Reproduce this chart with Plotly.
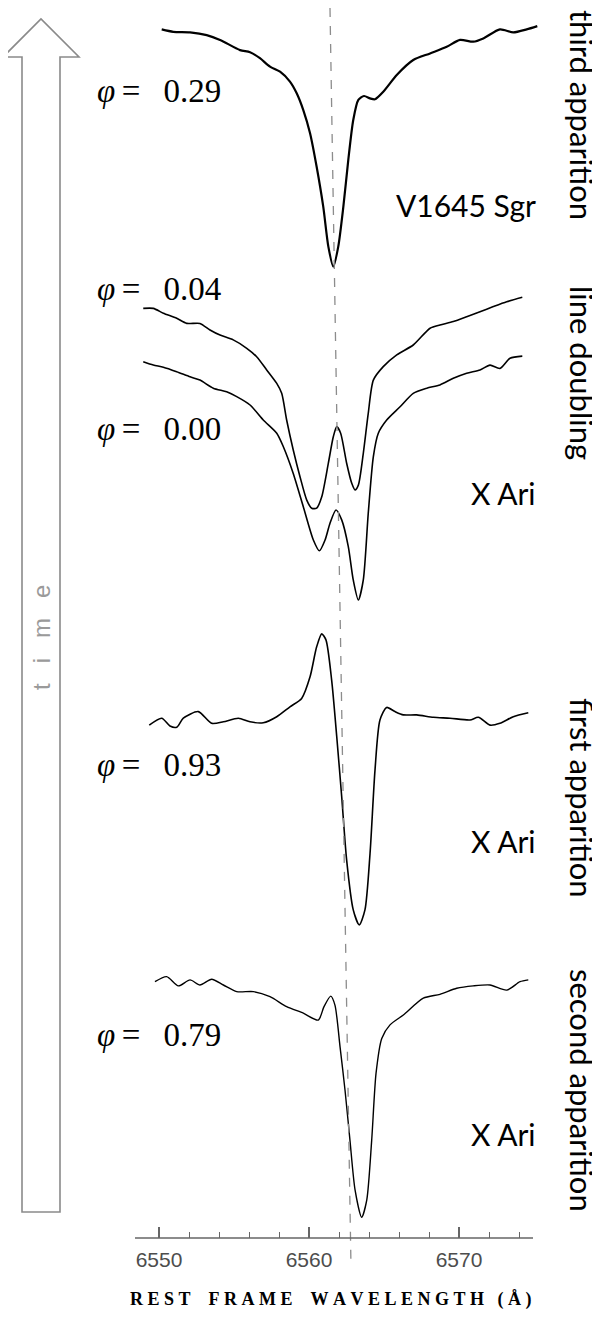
import plotly.graph_objects as go

# ---------------- data (wavelength in Angstrom, normalised flux) ----------------
phase_labels = ["0.29", "0.04", "0.00", "0.93", "0.79"]
star_labels = ["V1645 Sgr", "X Ari", "X Ari", "X Ari"]
epoch_labels = ["third apparition", "line doubling", "first apparition", "second apparition"]

s1_wl = [6550.18, 6550.95, 6552.07, 6553.18, 6554.07, 6555.40, 6556.07, 6556.73, 6557.40, 6558.07,
         6558.73, 6559.18, 6559.62, 6560.07, 6560.51, 6560.95, 6561.29, 6561.62, 6561.95, 6562.29,
         6562.62, 6562.95, 6563.29, 6563.67, 6564.07, 6564.40, 6564.95, 6565.85, 6566.95, 6568.07,
         6569.18, 6570.07, 6570.95, 6571.62, 6572.73, 6573.62, 6574.51, 6575.22]
s1_flux = [1.002, 0.994, 0.992, 0.983, 0.967, 0.933, 0.926, 0.906, 0.878, 0.861,
           0.828, 0.789, 0.733, 0.656, 0.544, 0.411, 0.278, 0.211, 0.278, 0.411,
           0.567, 0.700, 0.767, 0.780, 0.772, 0.769, 0.794, 0.850, 0.900, 0.922,
           0.944, 0.967, 0.961, 0.972, 1.002, 0.992, 1.002, 1.013]

s2_wl = [6548.95, 6549.62, 6550.29, 6551.18, 6551.85, 6552.73, 6553.40, 6554.07, 6554.95, 6555.85,
         6556.51, 6557.18, 6557.85, 6558.18, 6558.51, 6558.95, 6559.40, 6559.85, 6560.18, 6560.51,
         6560.85, 6561.29, 6561.62, 6561.85, 6562.11, 6562.51, 6562.85, 6563.07, 6563.29, 6563.62,
         6563.95, 6564.29, 6564.95, 6565.85, 6566.95, 6568.07, 6568.73, 6569.62, 6570.51, 6571.40,
         6572.29, 6573.18, 6574.22]
s2_flux = [0.972, 0.972, 0.956, 0.939, 0.922, 0.922, 0.900, 0.883, 0.867, 0.839,
           0.811, 0.767, 0.722, 0.689, 0.600, 0.500, 0.411, 0.333, 0.306, 0.306,
           0.344, 0.456, 0.544, 0.578, 0.556, 0.456, 0.389, 0.367, 0.383, 0.489,
           0.622, 0.733, 0.778, 0.817, 0.850, 0.906, 0.917, 0.928, 0.944, 0.961,
           0.978, 0.994, 1.009]

s3_wl = [6548.95, 6549.62, 6550.29, 6551.18, 6552.07, 6552.73, 6553.62, 6554.51, 6555.18, 6556.07,
         6556.95, 6557.85, 6558.29, 6558.95, 6559.62, 6560.29, 6560.69, 6561.07, 6561.40, 6561.80,
         6562.18, 6562.62, 6562.95, 6563.29, 6563.62, 6563.95, 6564.29, 6564.62, 6565.18, 6566.07,
         6566.95, 6567.85, 6568.73, 6569.62, 6570.51, 6571.40, 6572.07, 6572.73, 6573.40, 6574.22]
s3_flux = [0.994, 0.983, 0.976, 0.961, 0.944, 0.933, 0.906, 0.894, 0.878, 0.850,
           0.800, 0.756, 0.711, 0.622, 0.511, 0.400, 0.364, 0.400, 0.456, 0.500,
           0.467, 0.378, 0.267, 0.200, 0.267, 0.489, 0.678, 0.756, 0.800, 0.844,
           0.889, 0.906, 0.917, 0.939, 0.956, 0.967, 0.983, 0.972, 1.006, 1.013]

s4_wl = [6549.35, 6550.18, 6550.73, 6551.18, 6551.62, 6552.62, 6553.51, 6554.29, 6555.29, 6556.07,
         6556.95, 6557.85, 6558.73, 6559.51, 6560.07, 6560.51, 6560.85, 6561.13, 6561.51, 6561.85,
         6562.18, 6562.51, 6562.95, 6563.35, 6563.73, 6564.07, 6564.40, 6564.73, 6565.18, 6565.73,
         6566.29, 6567.18, 6568.29, 6569.40, 6570.73, 6571.29, 6572.07, 6572.73, 6573.62, 6574.62]
s4_flux = [0.983, 1.006, 0.980, 0.976, 1.006, 1.028, 0.989, 0.994, 1.006, 0.994,
           0.991, 1.011, 1.044, 1.072, 1.144, 1.244, 1.287, 1.267, 1.133, 0.944,
           0.744, 0.533, 0.367, 0.317, 0.367, 0.556, 0.833, 1.000, 1.042, 1.028,
           1.017, 1.017, 1.009, 1.006, 1.000, 1.009, 0.983, 0.989, 1.011, 1.024]

s5_wl = [6549.73, 6550.51, 6551.29, 6552.07, 6552.73, 6553.51, 6554.29, 6555.18, 6556.29, 6557.40,
         6558.51, 6559.62, 6560.62, 6561.00, 6561.45, 6561.73, 6562.07, 6562.40, 6562.73, 6563.07,
         6563.51, 6563.85, 6564.18, 6564.47, 6564.85, 6565.40, 6566.29, 6567.62, 6568.73, 6569.85,
         6570.95, 6572.07, 6573.18, 6574.07, 6574.62]
s5_flux = [1.011, 1.028, 0.997, 1.017, 1.000, 1.019, 1.000, 0.978, 0.978, 0.961,
           0.928, 0.906, 0.883, 0.928, 0.963, 0.933, 0.794, 0.650, 0.483, 0.317,
           0.226, 0.283, 0.483, 0.706, 0.822, 0.867, 0.900, 0.956, 0.969, 0.989,
           0.997, 1.000, 0.983, 1.011, 1.017]

halpha_top_wl = 6561.4      # dashed reference line (drawn slightly slanted in the original)
halpha_bottom_wl = 6562.8

# ---------------- layout geometry ----------------
# page has an 8px body margin; reference pixel coords are converted to figure coords
PAGE_OFF = 8
W, H = 600 - PAGE_OFF, 1317 - PAGE_OFF
AXIS_PY = 1238            # reference pixel row of the x axis
PLOT_LEFT, PLOT_RIGHT = 135, 540
ML = PLOT_LEFT - PAGE_OFF
MR = 600 - PLOT_RIGHT
MT = 0
MB = 1317 - AXIS_PY
PW = PLOT_RIGHT - PLOT_LEFT
PH = AXIS_PY - PAGE_OFF
PX_PER_A = 15.0
X0 = 6550 + (PLOT_LEFT - 159) / PX_PER_A
X1 = X0 + PW / PX_PER_A
PX_PER_UNIT = 300.0
YMAX = PH / PX_PER_UNIT

def xp(px):
    return (px - PLOT_LEFT) / PW

def yp(py):
    return (AXIS_PY - py) / PH

# vertical offsets of each spectrum (plot units), from the continuum rows
cont_rows = [30, 300, 360, 720, 985]
offsets = [(AXIS_PY - r) / PX_PER_UNIT - 1 for r in cont_rows]

spectra = [(s1_wl, s1_flux, 2.2), (s2_wl, s2_flux, 1.6), (s3_wl, s3_flux, 1.6),
           (s4_wl, s4_flux, 1.6), (s5_wl, s5_flux, 1.4)]

fig = go.Figure()
for (wl, fl, lw), off in zip(spectra, offsets):
    fig.add_trace(go.Scatter(x=wl, y=[off + f for f in fl], mode="lines",
                             line=dict(color="black", width=lw, shape="spline", smoothing=0.7),
                             hoverinfo="skip", showlegend=False))

shapes = []
shapes.append(dict(type="line", xref="x", yref="paper",
                   x0=halpha_top_wl, y0=yp(8), x1=halpha_bottom_wl, y1=yp(1267),
                   line=dict(color="#8c8c8c", width=1.3, dash="dash")))
shapes.append(dict(type="line", xref="paper", yref="paper", x0=xp(135), x1=xp(533), y0=0, y1=0,
                   line=dict(color="#666666", width=1.5)))
pts = [(22, 1212), (22, 57), (3, 57), (41, 19), (79, 57), (60, 57), (60, 1212)]
path = "M " + " L ".join(f"{xp(a):.5f},{yp(b):.5f}" for a, b in pts) + " Z"
shapes.append(dict(type="path", xref="paper", yref="paper", path=path,
                   line=dict(color="#8a8a8a", width=1.6), fillcolor="rgba(0,0,0,0)"))

ann = []
phase_y = [91, 289, 429, 765, 1035]
for lab, py in zip(phase_labels, phase_y):
    ann.append(dict(xref="paper", yref="paper", x=xp(95), y=yp(py), xanchor="left", yanchor="middle",
                    text="<i>φ</i>\u2009=\u00a0\u00a0\u2009" + lab, showarrow=False,
                    font=dict(family="Liberation Serif", size=33, color="black")))
star_y = [205, 493, 841, 1134]
for lab, py in zip(star_labels, star_y):
    ann.append(dict(xref="paper", yref="paper", x=xp(538), y=yp(py), xanchor="right", yanchor="middle",
                    text=lab, showarrow=False, font=dict(family="Lato", size=30, color="black")))
epoch_y = [115, 373, 798, 1090]
for lab, py in zip(epoch_labels, epoch_y):
    ann.append(dict(xref="paper", yref="paper", x=xp(582), y=yp(py), xanchor="center", yanchor="middle",
                    text=lab, textangle=90, showarrow=False,
                    font=dict(family="Lato", size=31, color="black")))
ann.append(dict(xref="paper", yref="paper", x=xp(41), y=yp(638), xanchor="center", yanchor="middle",
                text="t\u00a0\u00a0\u00a0i\u00a0\u00a0\u00a0m\u00a0\u00a0\u00a0e", textangle=-90, showarrow=False,
                font=dict(family="Liberation Sans", size=24, color="#9a9a9a")))
title_txt = "\u00a0".join("REST") + "\u00a0\u00a0\u00a0\u00a0" + "\u00a0".join("FRAME") + \
            "\u00a0\u00a0\u00a0\u00a0" + "\u00a0".join("WAVELENGTH") + "\u00a0\u00a0\u00a0" + "(\u00a0Å\u00a0)"
ann.append(dict(xref="paper", yref="paper", x=xp(331), y=yp(1299), xanchor="center", yanchor="middle",
                text="<b>" + title_txt + "</b>", showarrow=False,
                font=dict(family="Liberation Serif", size=18, color="black")))

fig.update_layout(
    width=W, height=H, margin=dict(l=ML, r=MR, t=MT, b=MB, pad=0),
    paper_bgcolor="white", plot_bgcolor="white",
    shapes=shapes, annotations=ann, showlegend=False,
    xaxis=dict(range=[X0, X1], showgrid=False, zeroline=False, showline=False,
               tickmode="linear", tick0=6550, dtick=10, ticks="inside", ticklen=11, tickwidth=1.5,
               tickcolor="#666666", tickfont=dict(family="Liberation Sans", size=21, color="#4d4d4d"),
               ticklabelstandoff=7,
               minor=dict(tick0=6550, dtick=2, ticks="inside", ticklen=6, tickwidth=1.2, tickcolor="#666666",
                          showgrid=False)),
    yaxis=dict(range=[0, YMAX], visible=False, showgrid=False, zeroline=False),
)

fig.write_html("out.html")
